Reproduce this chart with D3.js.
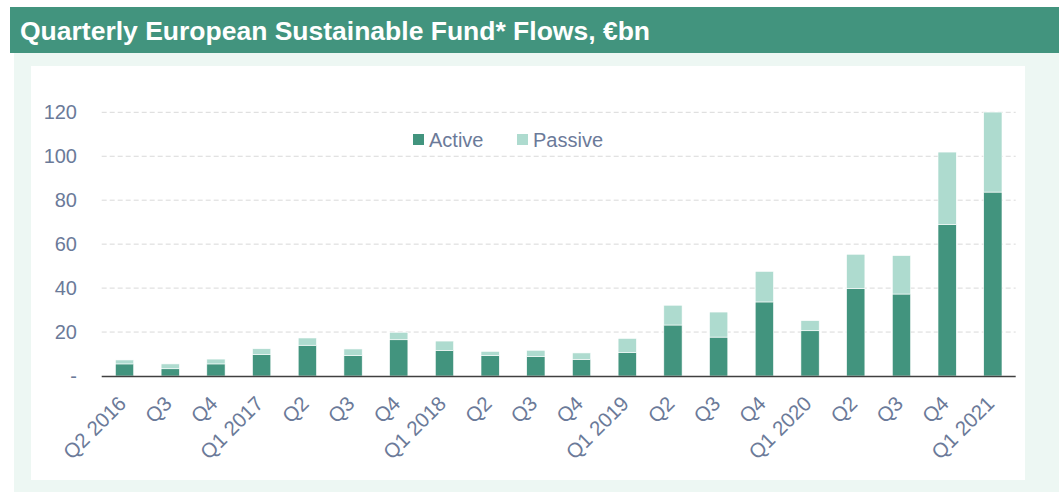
<!DOCTYPE html>
<html><head><meta charset="utf-8">
<script src="https://cdn.jsdelivr.net/npm/d3@7"></script>
<style>body{margin:0;background:#fff;}svg{display:block;font-family:"Liberation Sans",Arial,sans-serif;}</style>
</head><body><svg id="c" width="1059" height="492"></svg>
<script>
const title = "Quarterly European Sustainable Fund* Flows, €bn";
const categories = ["Q2 2016","Q3","Q4","Q1 2017","Q2","Q3","Q4","Q1 2018","Q2","Q3","Q4","Q1 2019","Q2","Q3","Q4","Q1 2020","Q2","Q3","Q4","Q1 2021"];
const active  = [5.5,3.3,5.5,9.7,14.0,9.3,16.5,11.7,9.3,8.8,7.6,10.6,23.2,17.7,33.7,20.6,39.9,37.3,69.0,83.7];
const passive = [1.8,2.2,2.2,2.7,3.3,3.0,3.4,4.2,1.9,2.9,2.9,6.5,9.0,11.4,13.9,4.6,15.5,17.5,32.9,36.4];
const seriesNames = ["Active","Passive"];
const seriesColors = ["#42947e","#aedbcf"];
const yTicks = [0,20,40,60,80,100,120];

const svg = d3.select("#c");
const txt = "#6b7a99";
// backgrounds
svg.append("rect").attr("x",14).attr("y",53).attr("width",1045).attr("height",439).attr("fill","#edf7f3");
svg.append("rect").attr("x",31).attr("y",66).attr("width",994).attr("height",414).attr("fill","#ffffff");
svg.append("rect").attr("x",10).attr("y",7).attr("width",1049).attr("height",46).attr("fill","#42947e");
svg.append("text").attr("x",20).attr("y",39.5).attr("fill","#fff").attr("font-weight","bold").attr("font-size",25.5)
  .attr("textLength",630).attr("lengthAdjust","spacingAndGlyphs").text(title);

const x = d3.scaleBand().domain(categories.map((d,i)=>i)).range([101.7,1015.7]).paddingInner(0.6).paddingOuter(0.3);
const y = d3.scaleLinear().domain([0,120]).range([376,112.3]);

// grid
svg.append("g").selectAll("line").data(yTicks.filter(d=>d>0)).join("line")
  .attr("x1",101.7).attr("x2",1015.7).attr("y1",d=>y(d)).attr("y2",d=>y(d))
  .attr("stroke","#d9d9d9").attr("stroke-width",1).attr("stroke-dasharray","5,3");

// y axis labels
const yAxis = d3.axisLeft(y).tickValues(yTicks).tickSize(0).tickPadding(0).tickFormat(d=>d===0?"-":d);
const yg = svg.append("g").attr("transform","translate(77,0)").call(yAxis);
yg.select(".domain").remove();
yg.selectAll("text").attr("fill",txt).attr("font-size",20).attr("font-family","Liberation Sans, Arial, sans-serif");

// stacked bars
const rows = categories.map((c,i)=>({i, Active:active[i], Passive:passive[i]}));
const stack = d3.stack().keys(seriesNames)(rows);
svg.append("g").selectAll("g").data(stack).join("g").attr("fill",(d,k)=>seriesColors[k])
  .selectAll("rect").data(d=>d).join("rect")
  .attr("x",d=>x(d.data.i)).attr("width",x.bandwidth())
  .attr("y",d=>y(d[1])).attr("height",d=>y(d[0])-y(d[1]))
  .attr("stroke","#ffffff").attr("stroke-width",0.6);

// x axis
svg.append("line").attr("x1",101.7).attr("x2",1015.7).attr("y1",376.5).attr("y2",376.5).attr("stroke","#404040").attr("stroke-width",1.5);
const xAxis = d3.axisBottom(x).tickSize(0).tickPadding(0).tickFormat(i=>categories[i]);
const xg = svg.append("g").attr("transform","translate(0,376)").call(xAxis);
xg.select(".domain").remove();
xg.selectAll("text").attr("fill",txt).attr("font-size",20.5).attr("font-family","Liberation Sans, Arial, sans-serif")
  .attr("text-anchor","end").attr("dy",null).attr("y",0)
  .attr("transform","translate(-1,25) rotate(-45)").attr("dominant-baseline","middle");

// legend
const lg = svg.append("g");
const lx = [413,517];
seriesNames.forEach((n,k)=>{
  lg.append("rect").attr("x",lx[k]).attr("y",134).attr("width",11).attr("height",11).attr("fill",seriesColors[k]);
  lg.append("text").attr("x",lx[k]+16).attr("y",146.5).attr("font-size",20).attr("fill",txt).text(n);
});
</script></body></html>
